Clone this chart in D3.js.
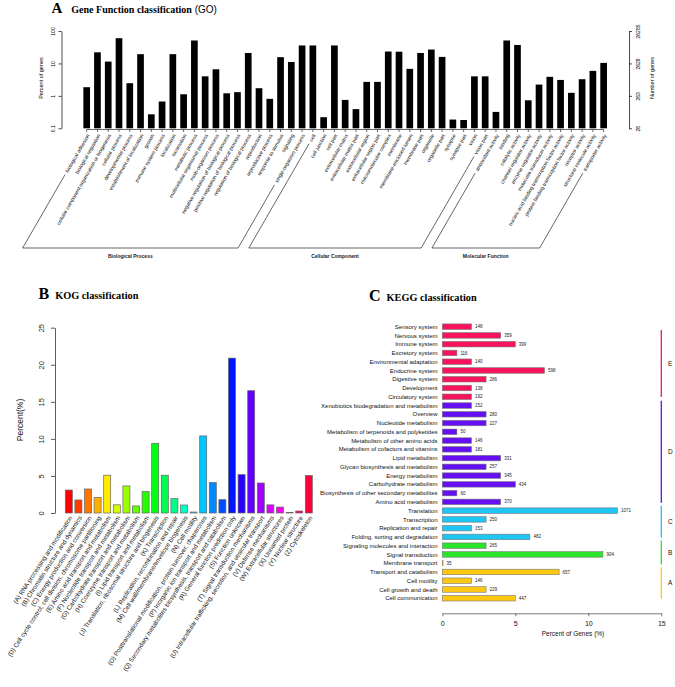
<!DOCTYPE html>
<html><head><meta charset="utf-8">
<script src="https://cdn.jsdelivr.net/npm/d3@7"></script>
<style>body{margin:0;background:#fff}svg{display:block}</style>
</head><body>
<script>
// ---------------- DATA ----------------
const goCategories = [
  "biological adhesion","biological regulation","cellular component organization or biogenesis","cellular process",
  "developmental process","establishment of localization","growth","immune system process","localization","locomotion",
  "metabolic process","multicellular organismal process","multi-organism process","negative regulation of biological process",
  "positive regulation of biological process","regulation of biological process","reproduction","reproductive process",
  "response to stimulus","signaling","single-organism process",
  "cell","cell junction","cell part","extracellular matrix","extracellular matrix part","extracellular region",
  "extracellular region part","macromolecular complex","membrane","membrane-enclosed lumen","membrane part","organelle",
  "organelle part","synapse","synapse part","virion","virion part",
  "antioxidant activity","binding","catalytic activity","channel regulator activity","enzyme regulator activity",
  "molecular transducer activity","nucleic acid binding transcription factor activity",
  "protein binding transcription factor activity","receptor activity","structural molecule activity","transporter activity"
];
const goPercent = [
  1.85,22,11.4,60,2.46,19.3,0.27,0.67,19.3,1.12,51,4.0,6.6,1.2,1.3,21,1.72,0.81,15.6,11.1,35.8,
  35.8,0.22,35.8,0.75,0.39,2.7,2.7,23.3,23,6.8,21,26.8,15.9,0.186,0.18,4.0,4.0,
  0.32,51,37,0.73,2.23,3.86,3.1,1.24,3.26,5.9,10.4
];
const goGroupNames = ["Biological Process","Cellular Component","Molecular Function"];
const goGroupFirst = [0,21,38];
const goGroupLast = [20,37,48];
const goLeftTicks = [0.1,1,10,100];
const goRightTickLabels = ["26","263","2628","26285"];

const kogCategories = [
  "(A) RNA processing and modification","(B) Chromatin structure and dynamics","(C) Energy production and conversion",
  "(D) Cell cycle control, cell division, chromosome partitioning","(E) Amino acid transport and metabolism",
  "(F) Nucleotide transport and metabolism","(G) Carbohydrate transport and metabolism","(H) Coenzyme transport and metabolism",
  "(I) Lipid transport and metabolism","(J) Translation, ribosomal structure and biogenesis","(K) Transcription",
  "(L) Replication, recombination and repair","(M) Cell wall/membrane/envelope biogenesis","(N) Cell motility",
  "(O) Posttranslational modification, protein turnover, chaperones","(P) Inorganic ion transport and metabolism",
  "(Q) Secondary metabolites biosynthesis, transport and catabolism","(R) General function prediction only",
  "(S) Function unknown","(T) Signal transduction mechanisms",
  "(U) Intracellular trafficking, secretion, and vesicular transport","(V) Defense mechanisms",
  "(W) Extracellular structures","(X) Unnamed protein","(Y) Nuclear structure","(Z) Cytoskeleton"
];
const kogPercent = [3.1,1.76,3.24,2.1,5.1,1.1,3.65,0.95,2.9,9.4,5.1,1.94,1.08,0.13,10.4,4.1,1.8,20.9,5.18,16.5,4.05,1.1,0.8,0.09,0.27,5.05];
const kogTicks = [0,5,10,15,20,25];

const keggCategories = [
  "Sensory system","Nervous system","Immune system","Excretory system","Environmental adaptation","Endocrine system",
  "Digestive system","Development","Circulatory system",
  "Xenobiotics biodegradation and metabolism","Overview","Nucleotide metabolism","Metabolism of terpenoids and polyketides",
  "Metabolism of other amino acids","Metabolism of cofactors and vitamins","Lipid metabolism",
  "Glycan biosynthesis and metabolism","Energy metabolism","Carbohydrate metabolism",
  "Biosynthesis of other secondary metabolites","Amino acid metabolism",
  "Translation","Transcription","Replication and repair","Folding, sorting and degradation",
  "Signaling molecules and interaction","Signal transduction",
  "Membrane transport","Transport and catabolism","Cell motility","Cell growth and death","Cell communication"
];
const keggCounts = [148,359,399,116,140,598,286,138,192, 152,280,227,50,146,181,331,257,345,434,60,370, 1071,250,153,482, 265,904, 35,657,146,229,447];
const keggPercent = [2,4,5,1,2,7,3,2,2, 2,3,3,1,2,2,4,3,4,5,1,4, 12,3,2,6, 3,11, 0.05,8,2,3,5];
const keggGroupNames = ["E","D","C","B","A"];
const keggGroupSizes = [9,12,4,2,5];
const keggGroupColors = ["#F8145C","#6510F2","#1EC6F4","#2BE52B","#FCC812"];
const keggTicks = [0,5,10,15];

// ---------------- SETUP ----------------
const W = 675, H = 687;
const sans = "Arial, 'Liberation Sans', Helvetica, sans-serif";
const serif = "'Liberation Serif', 'Times New Roman', Times, serif";
const svg = d3.select("body").append("svg").attr("width", W).attr("height", H)
  .style("font-family", sans);

function panelTitle(x, y, letter, text, letterSize, textSize, gap, extra) {
  const t = svg.append("text").attr("x", x).attr("y", y).attr("fill", "#000");
  t.append("tspan").attr("font-family", serif).attr("font-weight", "bold").attr("font-size", letterSize).text(letter);
  t.append("tspan").attr("dx", gap).attr("font-family", serif).attr("font-weight", "bold").attr("font-size", textSize).text(text);
  if (extra) t.append("tspan").attr("font-family", sans).attr("font-size", textSize).text(extra);
}

// ---------------- PANEL A (GO) ----------------
panelTitle(51.5, 13, "A", "Gene Function classification", 15, 10, 9, " (GO)");

const goStep = 10.77, goX0 = 81.3;
const gx = d3.scaleBand().domain(d3.range(goCategories.length))
  .range([goX0, goX0 + goStep * goCategories.length]).paddingInner(0.38).paddingOuter(0.19);
const gy = d3.scaleLog().domain([0.1, 100]).range([128.3, 31]);
const gA = svg.append("g");

gA.selectAll("rect.go").data(goPercent).join("rect").attr("class", "go")
  .attr("x", (d, i) => gx(i)).attr("width", gx.bandwidth())
  .attr("y", d => gy(d)).attr("height", d => gy(0.1) - gy(d)).attr("fill", "#000");

// left axis
const axL = gA.append("g").attr("transform", "translate(61.5,0)")
  .call(d3.axisLeft(gy).tickValues(goLeftTicks).tickFormat(d => String(d)).tickSize(3).tickSizeOuter(0));
axL.selectAll("text").attr("x", null).attr("dy", null).attr("text-anchor", "middle")
  .attr("transform", "translate(-7,0) rotate(-90)").attr("font-size", 5).attr("fill", "#000");
// right axis
const axR = gA.append("g").attr("transform", "translate(629,0)")
  .call(d3.axisRight(gy).tickValues(goLeftTicks).tickFormat((d, i) => goRightTickLabels[i]).tickSize(3).tickSizeOuter(0));
axR.selectAll("text").attr("x", null).attr("dy", null).attr("text-anchor", "middle")
  .attr("transform", "translate(11,0) rotate(-90)").attr("font-size", 5).attr("fill", "#000");
[axL, axR].forEach(a => { a.select(".domain").attr("stroke-width", 0.7); a.selectAll(".tick line").attr("stroke-width", 0.7); });

gA.append("text").attr("transform", "translate(42.5,78) rotate(-90)").attr("text-anchor", "middle")
  .attr("font-size", 5.5).text("Percent of genes");
gA.append("text").attr("transform", "translate(654,78) rotate(-90)").attr("text-anchor", "middle")
  .attr("font-size", 5.5).text("Number of genes");

// bottom axis line with ticks
gA.append("line").attr("x1", gx(0) + gx.bandwidth() / 2).attr("x2", gx(goCategories.length - 1) + gx.bandwidth() / 2)
  .attr("y1", 129.5).attr("y2", 129.5).attr("stroke", "#000").attr("stroke-width", 0.6);
gA.selectAll("line.gt").data(goCategories).join("line").attr("class", "gt")
  .attr("x1", (d, i) => gx(i) + gx.bandwidth() / 2).attr("x2", (d, i) => gx(i) + gx.bandwidth() / 2)
  .attr("y1", 129.5).attr("y2", 132).attr("stroke", "#000").attr("stroke-width", 0.6);

// labels
const goAng = 60, goLabY = 134.5, goLabDx = 1.5;
const goLabels = gA.selectAll("text.gl").data(goCategories).join("text").attr("class", "gl")
  .attr("transform", (d, i) => `translate(${gx(i) + gx.bandwidth() / 2 + goLabDx},${goLabY}) rotate(${-goAng})`)
  .attr("text-anchor", "end").attr("dy", "0.35em").attr("font-size", 5.1).attr("fill", "#111").text(d => d);

// group brackets
const a = goAng * Math.PI / 180, ux = Math.cos(a), uy = -Math.sin(a);
const bracketY = 248;
const lnodes = goLabels.nodes();
goGroupNames.forEach((name, gi) => {
  const pts = [goGroupFirst[gi], goGroupLast[gi]].map(i => {
    const L = lnodes[i].getComputedTextLength() + 3;
    const ex = gx(i) + gx.bandwidth() / 2 + goLabDx, ey = goLabY;
    const sx = ex - L * ux, sy = ey - L * uy;
    const bx = sx - (bracketY - sy) / Math.tan(a);
    return { sx, sy, bx };
  });
  const p = d3.path();
  p.moveTo(pts[0].sx, pts[0].sy); p.lineTo(pts[0].bx, bracketY);
  p.lineTo(pts[1].bx, bracketY); p.lineTo(pts[1].sx, pts[1].sy);
  gA.append("path").attr("d", p.toString()).attr("fill", "none").attr("stroke", "#000").attr("stroke-width", 0.6);
  gA.append("text").attr("x", (pts[0].bx + pts[1].bx) / 2).attr("y", bracketY + 9.5).attr("text-anchor", "middle")
    .attr("font-size", 5).attr("font-weight", "bold").attr("fill", "#222").text(name);
});

// ---------------- PANEL B (KOG) ----------------
panelTitle(38.5, 298.5, "B", "KOG classification", 16, 10.3, 6);
const kStep = 9.6, kX0 = 64;
const kx = d3.scaleBand().domain(d3.range(kogCategories.length))
  .range([kX0, kX0 + kStep * kogCategories.length]).paddingInner(0.27).paddingOuter(0.135);
const ky = d3.scaleLinear().domain([0, 25]).range([513, 327.7]);
const kogColor = i => d3.hsl(360 * i / kogCategories.length, 1, 0.5).formatHex();
const gB = svg.append("g");
gB.selectAll("rect.k").data(kogPercent).join("rect").attr("class", "k")
  .attr("x", (d, i) => kx(i)).attr("width", kx.bandwidth())
  .attr("y", d => ky(d)).attr("height", d => ky(0) - ky(d))
  .attr("fill", (d, i) => kogColor(i)).attr("stroke", "#666").attr("stroke-width", 0.7);
const axB = gB.append("g").attr("transform", "translate(55,0)")
  .call(d3.axisLeft(ky).tickValues(kogTicks).tickSize(4).tickSizeOuter(0));
axB.selectAll("text").attr("x", null).attr("dy", null).attr("text-anchor", "middle")
  .attr("transform", "translate(-11.5,0) rotate(-90)").attr("font-size", 7.5).attr("fill", "#222");
axB.select(".domain").attr("stroke", "#333").attr("stroke-width", 0.8);
axB.selectAll(".tick line").attr("stroke", "#333").attr("stroke-width", 0.8);
gB.append("text").attr("transform", "translate(23,420) rotate(-90)").attr("text-anchor", "middle")
  .attr("font-size", 8.5).attr("fill", "#222").text("Percent(%)");
gB.selectAll("text.kl").data(kogCategories).join("text").attr("class", "kl")
  .attr("transform", (d, i) => `translate(${kx(i) + kx.bandwidth() / 2 + 2},516.5) rotate(-57)`)
  .attr("text-anchor", "end").attr("dy", "0.35em").attr("font-size", 6.3).attr("fill", "#111").text(d => d);

// ---------------- PANEL C (KEGG) ----------------
panelTitle(369, 300.7, "C", "KEGG classification", 16, 10.3, 6);
const cStep = 8.76, cY0 = 322.3;
const cy = d3.scaleBand().domain(d3.range(keggCategories.length))
  .range([cY0, cY0 + cStep * keggCategories.length]).paddingInner(0.37).paddingOuter(0.185);
const cx = d3.scaleLinear().domain([0, 15]).range([442.3, 661.3]);
const keggGroupOf = [];
keggGroupSizes.forEach((n, gi) => { for (let k = 0; k < n; k++) keggGroupOf.push(gi); });
const gC = svg.append("g");
gC.selectAll("rect.c").data(keggPercent).join("rect").attr("class", "c")
  .attr("x", cx(0)).attr("width", d => cx(d) - cx(0))
  .attr("y", (d, i) => cy(i)).attr("height", cy.bandwidth())
  .attr("fill", (d, i) => keggGroupColors[keggGroupOf[i]]).attr("stroke", "#777").attr("stroke-width", 0.6);
gC.selectAll("text.cl").data(keggCategories).join("text").attr("class", "cl")
  .attr("x", 437.5).attr("y", (d, i) => cy(i) + cy.bandwidth() / 2).attr("dy", "0.35em")
  .attr("text-anchor", "end").attr("font-size", 6).attr("fill", "#111").text(d => d);
gC.selectAll("text.cv").data(keggCounts).join("text").attr("class", "cv")
  .attr("x", (d, i) => cx(keggPercent[i]) + 3.5).attr("y", (d, i) => cy(i) + cy.bandwidth() / 2).attr("dy", "0.35em")
  .attr("font-size", 4.5).attr("fill", "#222").text(d => d);
const axC = gC.append("g").attr("transform", "translate(0,613.3)")
  .call(d3.axisBottom(cx).tickValues(keggTicks).tickSize(3).tickSizeOuter(0));
axC.selectAll("text").attr("font-size", 7).attr("fill", "#111").attr("y", 8);
axC.select(".domain").attr("stroke", "#444").attr("stroke-width", 0.7);
axC.selectAll(".tick line").attr("stroke", "#444").attr("stroke-width", 0.7);
gC.append("text").attr("x", 573).attr("y", 635.5).attr("text-anchor", "middle")
  .attr("font-size", 6.5).attr("fill", "#111").text("Percent of Genes (%)");

// group brackets (fractional row extents for layout)
const keggBracketRows = [[0.38, 8.02], [8.45, 20.1], [20.43, 24.1], [24.4, 27.14], [27.45, 31.06]];
const rowY = r => cy(0) + cy.bandwidth() / 2 + r * cy.step();
keggGroupNames.forEach((name, gi) => {
  const [r0, r1] = keggBracketRows[gi];
  gC.append("line").attr("x1", 661.3).attr("x2", 661.3).attr("y1", rowY(r0)).attr("y2", rowY(r1))
    .attr("stroke", keggGroupColors[gi]).attr("stroke-width", 1.3);
  gC.append("text").attr("x", 668).attr("y", (rowY(r0) + rowY(r1)) / 2).attr("dy", "0.35em")
    .attr("font-size", 6.5).attr("fill", "#111").text(name);
});
</script>
</body></html>
